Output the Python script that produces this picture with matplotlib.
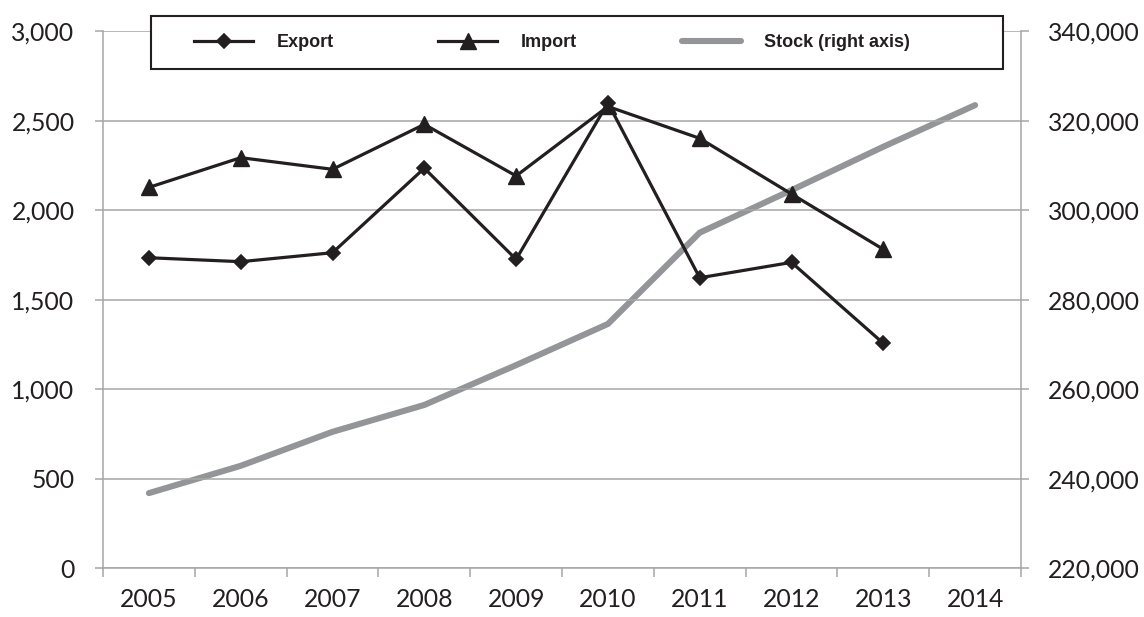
import matplotlib
matplotlib.use("Agg")
import matplotlib.pyplot as plt
from matplotlib.patches import Rectangle
from matplotlib.ticker import FuncFormatter, FixedLocator
import numpy as np

years = ["2005", "2006", "2007", "2008", "2009", "2010", "2011", "2012", "2013", "2014"]
export_vals = [1735, 1713, 1763, 2235, 1726, 2600, 1623, 1709, 1257]
import_vals = [2128, 2294, 2229, 2480, 2192, 2580, 2402, 2091, 1782]
stock_vals = [236800, 242900, 250500, 256500, 265400, 274600, 295000, 304500, 314200, 323500]
left_ticks = [0, 500, 1000, 1500, 2000, 2500, 3000]
right_ticks = [220000, 240000, 260000, 280000, 300000, 320000, 340000]

W, H = 1144, 617
fig = plt.figure(figsize=(W / 100, H / 100), dpi=100)
fig.patch.set_facecolor("white")

L, R, T, B = 103, 1021, 31.3, 568.3
ax = fig.add_axes([L / W, 1 - B / H, (R - L) / W, (B - T) / H])
ax2 = ax.twinx()
ax.set_zorder(ax2.get_zorder() + 1)
ax.patch.set_visible(False)

dark = "#231F20"
gray = "#A6A6A6"
stock_c = "#939598"

x = np.arange(len(years))
ax2.plot(x[:len(stock_vals)], stock_vals, color=stock_c, lw=4.4,
         solid_capstyle="round", solid_joinstyle="round", label="Stock (right axis)")
ax.plot(x[:len(export_vals)], export_vals, color=dark, lw=2.3, marker="D", ms=7.2,
        mew=1.2, mfc=dark, mec=dark, label="Export")
ax.plot(x[:len(import_vals)], import_vals, color=dark, lw=2.3, marker="^", ms=11.5,
        mew=1.0, mfc=dark, mec=dark, label="Import")

ax.set_xlim(-0.5, len(years) - 0.5)
ax.set_ylim(left_ticks[0], left_ticks[-1])
ax2.set_ylim(right_ticks[0], right_ticks[-1])

ax.set_yticks(left_ticks)
ax.yaxis.set_major_formatter(FuncFormatter(lambda v, p: f"{int(v):,}"))
ax2.set_yticks(right_ticks)
ax2.yaxis.set_major_formatter(FuncFormatter(lambda v, p: f"{int(v):,}"))

ax.set_xticks(x)
ax.set_xticklabels(years)
ax.xaxis.set_minor_locator(FixedLocator(np.arange(-0.5, len(years), 1.0)))
ax.tick_params(axis="x", which="major", length=0, pad=14, labelsize=17.8,
               labelcolor=dark)
ax.tick_params(axis="x", which="minor", length=6.5, width=1.1, color=gray,
               direction="out")
ax.tick_params(axis="y", length=6, width=1.1, color=gray, pad=14.5,
               labelsize=17.8, labelcolor=dark)
ax2.tick_params(axis="y", length=6, width=1.1, color=gray, pad=13.5,
                labelsize=17.8, labelcolor=dark)
for lab in ax.get_xticklabels() + ax.get_yticklabels() + ax2.get_yticklabels():
    lab.set_fontfamily(["Lato", "DejaVu Sans"])

ax.grid(axis="y", color=gray, lw=1.1)
ax.set_axisbelow(True)

for a in (ax, ax2):
    a.spines["top"].set_visible(False)
    for s in ("left", "right", "bottom"):
        a.spines[s].set_color(gray)
        a.spines[s].set_linewidth(1.1)
ax.spines["right"].set_visible(False)
ax2.spines["left"].set_visible(False)
ax2.spines["bottom"].set_visible(False)

# legend box
bx0, by0, bx1, by1 = 150.7, 15.7, 1003, 69
rect = Rectangle((bx0 / W, 1 - by1 / H), (bx1 - bx0) / W, (by1 - by0) / H,
                 transform=fig.transFigure, facecolor="white", edgecolor=dark,
                 lw=1.5, zorder=10)
fig.patches.append(rect)

handles = ax.get_lines() + ax2.get_lines()
leg = fig.legend(handles, [h.get_label() for h in handles], ncol=3,
                 loc="center left", bbox_to_anchor=(194 / W, 1 - 42.5 / H),
                 frameon=False, borderpad=0, borderaxespad=0,
                 handlelength=3.27, handletextpad=1.3, columnspacing=5.8,
                 numpoints=1,
                 prop=dict(family=["Liberation Sans Narrow", "Liberation Sans"],
                           weight="bold", size=13))
leg.set_zorder(11)
for t in leg.get_texts():
    t.set_color(dark)

fig.savefig("out.png", dpi=100, facecolor="white")
